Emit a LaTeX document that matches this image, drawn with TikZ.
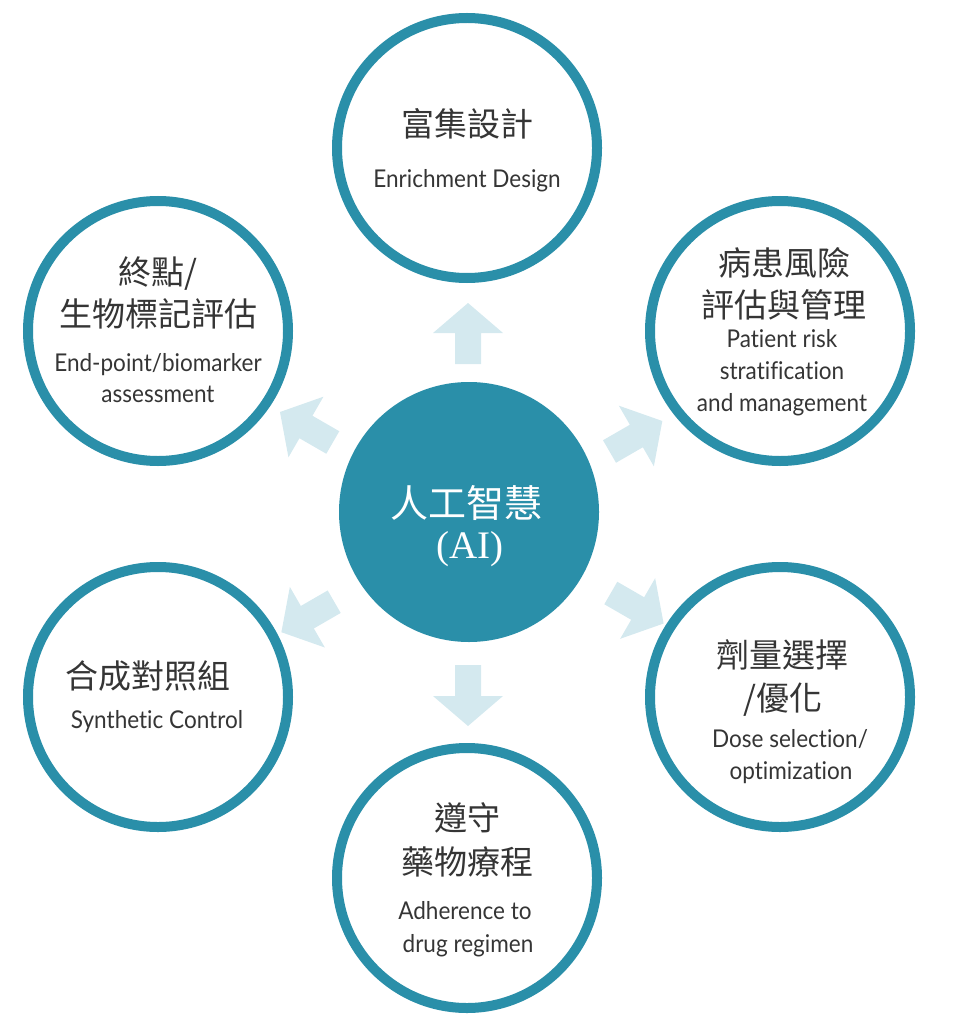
\documentclass[tikz,border=0pt]{standalone}
\usepackage{fontspec}
\newfontfamily\zh{Noto Sans CJK TC}
\newfontfamily\en[FakeStretch=0.92,Ligatures=CommonOff]{Lato}
\newfontfamily\serifen{Liberation Serif}
\definecolor{tealc}{HTML}{2A8FA9}
\definecolor{arrowc}{HTML}{D4E9EF}
\definecolor{txtc}{HTML}{353535}
\tikzset{
  ring/.style={circle, draw=tealc, line width=10pt, fill=white, minimum size=260pt, inner sep=0pt},
  hub/.style={circle, fill=tealc, minimum size=260pt, inner sep=0pt},
  zhtxt/.style={anchor=base, text=txtc, inner sep=0pt, font=\zh\fontsize{33}{40}\selectfont},
  entxt/.style={anchor=base, text=txtc, inner sep=0pt, font=\en\fontsize{24.5}{30}\selectfont},
  hubtxt/.style={anchor=base, text=white, inner sep=0pt},
  blockarrow/.pic={\fill[arrowc] (0,-13) -- (31,-13) -- (31,-35) -- (61,0) -- (31,35) -- (31,13) -- (0,13) -- cycle;}
}
\begin{document}
\begin{tikzpicture}[x=1pt,y=-1pt]
\useasboundingbox (0,0) rectangle (952,1024);
% circles
\node[hub]  (ai) at (469,512) {};
\node[ring] (top) at (467,148) {};
\node[ring] (ur)  at (780,331) {};
\node[ring] (ul)  at (158,331) {};
\node[ring] (ll)  at (158,697) {};
\node[ring] (lr)  at (780,697) {};
\node[ring] (bot) at (467,878) {};
% arrows
\pic[rotate=90]  at (468,364)     {blockarrow};
\pic[rotate=-90] at (468,665)     {blockarrow};
\pic[rotate=30]  at (609.5,451.5) {blockarrow};
\pic[rotate=-30] at (610.8,593)   {blockarrow};
\pic[rotate=150] at (332.8,442.5) {blockarrow};
\pic[rotate=210] at (334.2,601.7) {blockarrow};
% hub text
\node[hubtxt, font=\zh\fontsize{38}{44}\selectfont] (ai1) at (466,517) {人工智慧};
\node[hubtxt, font=\serifen\fontsize{39}{44}\selectfont] (ai2) at (470,558) {(AI)};
% top
\node[zhtxt] (t1) at (467,137) {富集設計};
\node[entxt] (t2) at (467,188) {Enrichment Design};
% upper right
\node[zhtxt] (ur1) at (784,275) {病患風險};
\node[zhtxt] (ur2) at (784,317) {評估與管理};
\node[entxt] (ur3) at (782,347) {Patient risk};
\node[entxt] (ur4) at (782,379) {stratification};
\node[entxt] (ur5) at (782,411) {and management};
% upper left
\node[zhtxt] (ul1) at (158,284) {終點/};
\node[zhtxt] (ul2) at (158,326) {生物標記評估};
\node[entxt] (ul3) at (158,371) {End-point/biomarker};
\node[entxt] (ul4) at (158,402) {assessment};
% lower left
\node[zhtxt] (ll1) at (148,688) {合成對照組};
\node[entxt] (ll2) at (157,728) {Synthetic Control};
% lower right
\node[zhtxt] (lr1) at (782,667) {劑量選擇};
\node[zhtxt] (lr2) at (783,710) {/優化};
\node[entxt] (lr3) at (790,747) {Dose selection/};
\node[entxt] (lr4) at (791,779) {optimization};
% bottom
\node[zhtxt] (b1) at (467,830) {遵守};
\node[zhtxt] (b2) at (467,874) {藥物療程};
\node[entxt] (b3) at (465,919) {Adherence to};
\node[entxt] (b4) at (468,952) {drug regimen};
\end{tikzpicture}
\end{document}
